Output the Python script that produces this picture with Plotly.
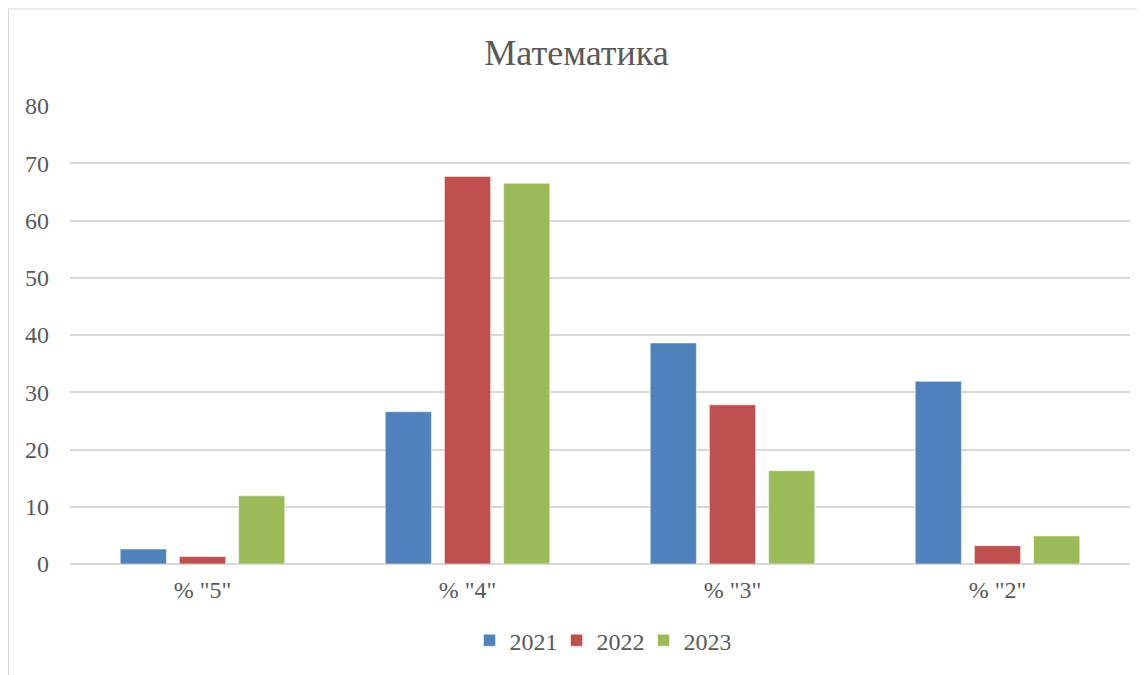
import plotly.graph_objects as go

categories = ['% "5"', '% "4"', '% "3"', '% "2"']
years = ["2021", "2022", "2023"]
values_2021 = [2.6, 26.6, 38.6, 31.9]
values_2022 = [1.3, 67.7, 27.8, 3.2]
values_2023 = [11.9, 66.5, 16.3, 4.9]
colors = ["#4F81BD", "#C0504D", "#9BBB59"]
y_ticks = [0, 10, 20, 30, 40, 50, 60, 70, 80]

series = [values_2021, values_2022, values_2023]
font_family = "Liberation Serif"
text_color = "#595959"

W, H = 1137, 667
L, R, T, B = 62, 15, 98, 109
PW, PH = W - L - R, H - T - B

fig = go.Figure()
for name, vals, col in zip(years, series, colors):
    fig.add_trace(go.Bar(
        x=categories, y=vals, name=name,
        marker=dict(color=col, line=dict(color="rgba(255,255,255,0.5)", width=1)),
    ))

fig.update_layout(
    width=W, height=H,
    barmode="group", bargap=0.33, bargroupgap=0.22,
    plot_bgcolor="white", paper_bgcolor="white",
    margin=dict(l=L, r=R, t=T, b=B),
    font=dict(family=font_family, color=text_color, size=24),
    title=dict(text="Математика", x=0.5, xanchor="center", y=1 - 44 / H, yanchor="middle",
               font=dict(family=font_family, size=36, color=text_color)),
    xaxis=dict(showgrid=False, showline=False, ticks="",
               tickfont=dict(family=font_family, size=24, color=text_color), ticklabelstandoff=9),
    yaxis=dict(range=[0, 80], tickvals=y_ticks, showgrid=True, gridcolor="#D9D9D9", gridwidth=1.5,
               zeroline=True, zerolinecolor="#D9D9D9", zerolinewidth=1.5,
               showline=False, ticks="", tickfont=dict(family=font_family, size=24, color=text_color),
               ticklabelstandoff=20),
    legend=dict(orientation="h", x=0.5, xanchor="center", y=-77 / PH, yanchor="middle",
                font=dict(family=font_family, size=24, color=text_color), itemwidth=30,
                entrywidth=42, entrywidthmode="pixels", traceorder="normal"),
    showlegend=True,
)

# chart frame border
fig.add_shape(type="rect", xref="paper", yref="paper",
              x0=(0.5 - L) / PW, x1=(W + 5 - L) / PW,
              y0=(-5 - B) / PH, y1=(PH + T - 0.5) / PH,
              line=dict(color="#D9D9D9", width=1), layer="below")

fig.write_html("out.html")
